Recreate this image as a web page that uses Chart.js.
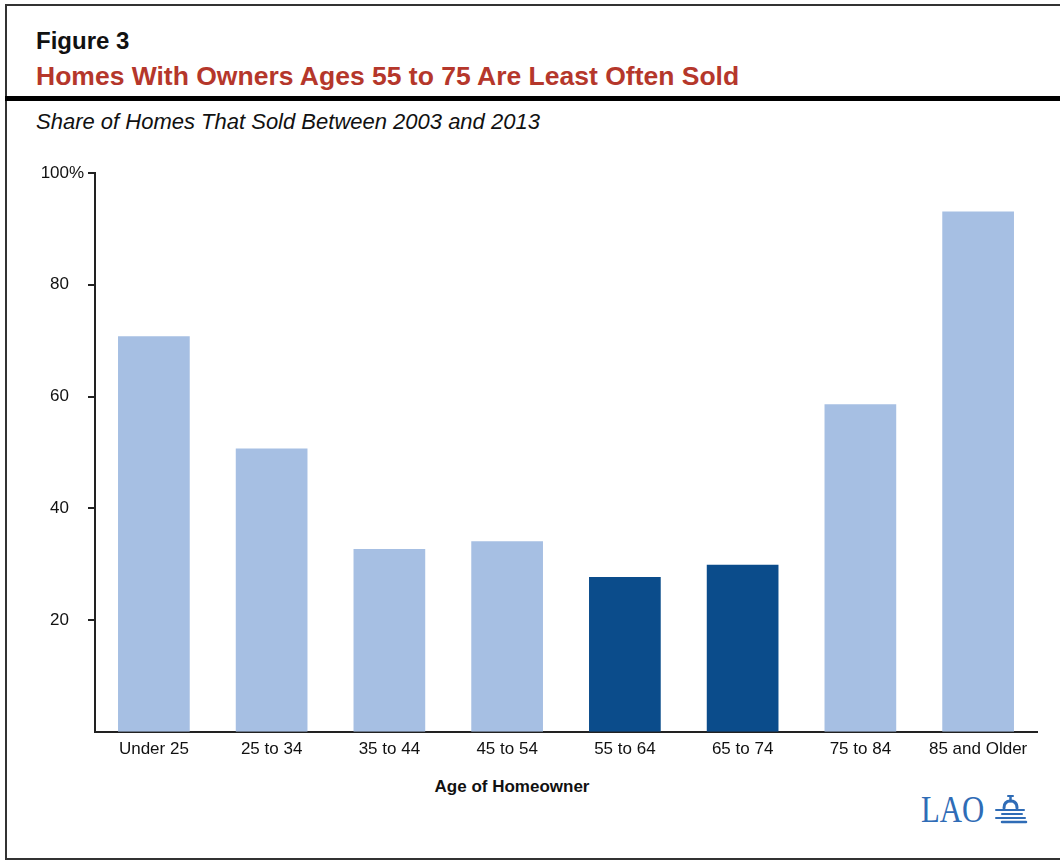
<!DOCTYPE html>
<html>
<head>
<meta charset="utf-8">
<title>Homes With Owners Ages 55 to 75 Are Least Often Sold</title>
<script src="https://cdn.jsdelivr.net/npm/chart.js@4.4.1/dist/chart.umd.min.js"></script>
<style>
  html, body { margin: 0; padding: 0; background: #fff; }
  body { width: 1060px; height: 865px; position: relative; overflow: hidden;
         font-family: "Liberation Sans", Arial, Helvetica, sans-serif; color: #111; }
  .frame { position: absolute; left: 5px; top: 4px; width: 1100px; height: 856px;
           border: 2px solid #333; box-sizing: border-box; }
  .rule { position: absolute; left: 5px; top: 96px; width: 1060px; height: 5px; background: #000; }
  .txt { position: absolute; white-space: nowrap; line-height: 1; }
  #fig { left: 36px; top: 29px; font-size: 24px; font-weight: bold; color: #111; }
  #title { left: 36px; top: 63px; font-size: 26.5px; font-weight: bold; color: #b5372b; }
  #sub { left: 36px; top: 111px; font-size: 22px; font-style: italic; color: #111; }
  #xtitle { left: 512px; top: 778px; font-size: 17px; font-weight: bold; color: #111;
            transform: translateX(-50%); }
  #logo { position: absolute; left: 921px; top: 790px; height: 40px; }
  #logo .lao { position: absolute; left: 0; top: 0; font-family: "Liberation Serif", "Times New Roman", serif;
               font-size: 38px; line-height: 1; color: #2f6cb6; transform: scaleX(0.81);
               transform-origin: left top; white-space: nowrap; }
  #logo svg { position: absolute; left: 73px; top: 4px; }
  canvas { position: absolute; left: 0; top: 0; }
</style>
</head>
<body>
<div class="frame"></div>
<div class="txt" id="fig">Figure 3</div>
<div class="txt" id="title">Homes With Owners Ages 55 to 75 Are Least Often Sold</div>
<div class="rule"></div>
<div class="txt" id="sub">Share of Homes That Sold Between 2003 and 2013</div>
<div class="txt" id="xtitle">Age of Homeowner</div>
<div id="logo">
  <div class="lao">LAO</div>
  <svg width="34" height="32" viewBox="0 0 34 32">
    <g fill="none" stroke="#2f6cb6" stroke-linecap="round">
      <path d="M14 2 h5" stroke-width="2"/>
      <path d="M16.5 3 v4" stroke-width="2.5"/>
      <path d="M10 14 C10 9 12 7 16.5 7 C21 7 23 9 23 14" stroke-width="3"/>
      <path d="M2 16 h28" stroke-width="2"/>
      <path d="M8 20 h20" stroke-width="2"/>
      <path d="M2 24 h29" stroke-width="2"/>
      <path d="M8 28 h24" stroke-width="2.5"/>
    </g>
  </svg>
</div>
<canvas id="chart" width="1060" height="865"></canvas>
<script>
// Age groups of homeowners and share of their homes sold, 2003–2013 (%)
const categories = ['Under 25', '25 to 34', '35 to 44', '45 to 54', '55 to 64', '65 to 74', '75 to 84', '85 and Older'];
const shares = [70.8, 50.7, 32.7, 34.1, 27.7, 29.9, 58.6, 93.1];
// Age groups that are emphasised (owners ages 55 to 75)
const highlighted = [false, false, false, false, true, true, false, false];
// Value-axis ticks
const yTickValues = [20, 40, 60, 80, 100];
const yTickLabels = ['20', '40', '60', '80', '100%'];

const LIGHT = '#a6bfe3';
const DARK = '#0b4c8b';
const AXIS = '#222';
const Y_TICK_LEN = 7;
const Y_LABEL_PAD = 19;
const Y_FONT = 17;

// Draws the "%" of the top tick label so the number stays aligned with the others
const percentSuffix = {
  id: 'percentSuffix',
  afterDraw(chart) {
    const y = chart.scales.y;
    const ctx = chart.ctx;
    ctx.save();
    ctx.font = Y_FONT + 'px "Liberation Sans", Arial, sans-serif';
    ctx.fillStyle = '#111';
    ctx.textAlign = 'left';
    ctx.textBaseline = 'middle';
    yTickValues.forEach((v, i) => {
      const lab = yTickLabels[i];
      if (lab.endsWith('%')) {
        ctx.fillText('%', y.right - Y_TICK_LEN - Y_LABEL_PAD, y.getPixelForValue(v));
      }
    });
    ctx.restore();
  }
};

new Chart(document.getElementById('chart'), {
  type: 'bar',
  data: {
    labels: categories,
    datasets: [{
      data: shares,
      backgroundColor: highlighted.map(h => (h ? DARK : LIGHT)),
      borderWidth: 0,
      barPercentage: 0.609,
      categoryPercentage: 1.0
    }]
  },
  options: {
    responsive: false,
    animation: false,
    devicePixelRatio: 1,
    layout: { padding: { left: 0, top: 173, right: 23, bottom: 93.25 } },
    plugins: { legend: { display: false }, tooltip: { enabled: false } },
    scales: {
      x: {
        offset: true,
        grid: { display: false, drawTicks: false },
        border: { display: true, color: AXIS, width: 2 },
        ticks: {
          color: '#111',
          padding: 7,
          maxRotation: 0,
          autoSkip: false,
          font: { family: '"Liberation Sans", Arial, sans-serif', size: 17 }
        },
        afterFit(scale) { scale.height = 40; }
      },
      y: {
        min: 0,
        max: 100,
        afterBuildTicks(scale) { scale.ticks = yTickValues.map(v => ({ value: v })); },
        afterFit(scale) { scale.width = 95; },
        grid: { drawOnChartArea: false, drawTicks: true, tickLength: Y_TICK_LEN, color: AXIS, lineWidth: 2 },
        border: { display: true, color: AXIS, width: 2 },
        ticks: {
          color: '#111',
          padding: Y_LABEL_PAD,
          font: { family: '"Liberation Sans", Arial, sans-serif', size: Y_FONT },
          callback(value) {
            const i = yTickValues.indexOf(value);
            return i >= 0 ? yTickLabels[i].replace('%', '') : '';
          }
        }
      }
    }
  },
  plugins: [percentSuffix]
});
</script>
</body>
</html>
